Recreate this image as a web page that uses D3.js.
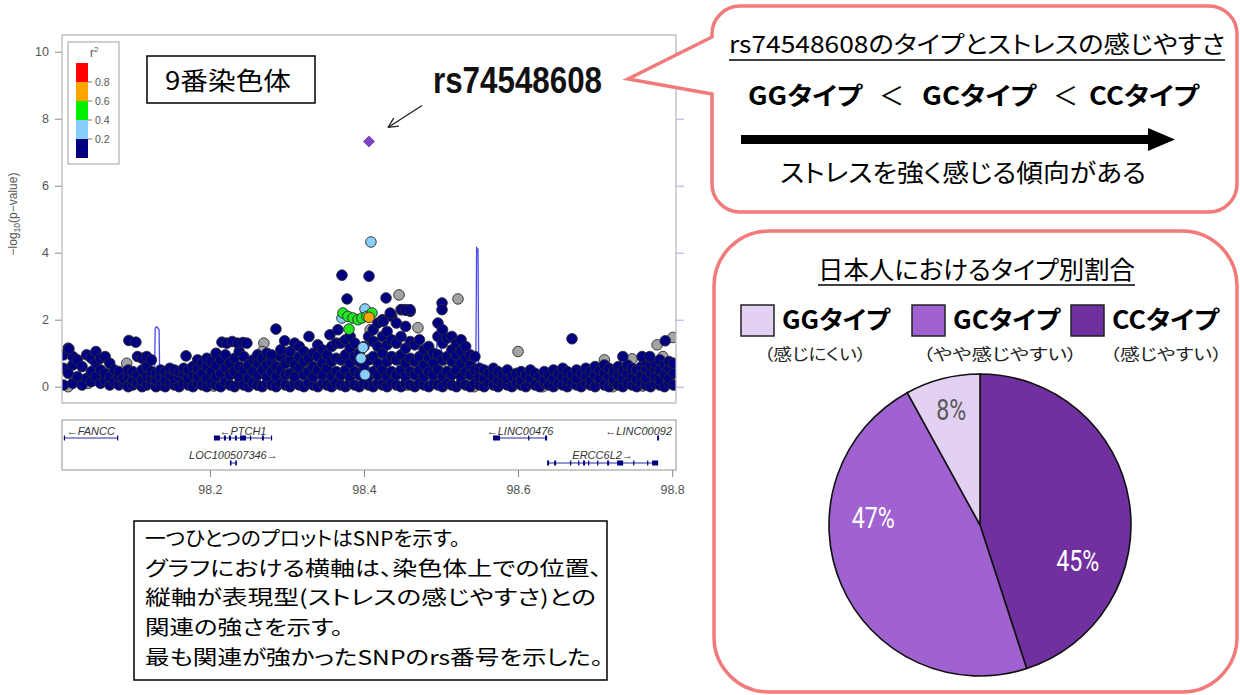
<!DOCTYPE html>
<html>
<head>
<meta charset="utf-8">
<script src="https://cdn.jsdelivr.net/npm/d3@7"></script>
<style>
body { margin: 0; background: #fff; }
svg { display: block; }
.jp { font-family: "Noto Sans CJK JP", "Noto Sans", sans-serif; font-feature-settings: "palt"; }
.ax { font-family: "Liberation Sans", Arial, sans-serif; }
</style>
</head>
<body>
<svg id="chart" width="1240" height="695"></svg>
<script>
// ---- data ----
var yTicks = [0, 2, 4, 6, 8, 10];
var xTicks = [98.2, 98.4, 98.6, 98.8];
var recombTicks = [0, 20, 40, 60, 80, 100];

// r2 legend bins
var ldBins = [0, 0.2, 0.4, 0.6, 0.8, 1];
var ldColors = ["#000080", "#87cefa", "#00ee00", "#ffa500", "#ff0000"];
var ldLabels = [0.2, 0.4, 0.6, 0.8];

// dense band of SNPs with r2 < 0.2, one column per position: [Mb, [-log10 p]]
var bandCols = [
  [98.010, [0.05, 0.55, 0.95]], [98.016, [0.4, 1.15]], [98.022, [0.1, 0.65, 0.9]],
  [98.028, [0.3, 0.8]], [98.034, [0.05, 0.6]], [98.040, [0.25, 0.95]],
  [98.046, [0.15, 0.45, 0.85]], [98.052, [0.3, 0.7, 1.05]], [98.058, [0.1, 0.5, 0.85]],
  [98.064, [0.2, 0.4, 0.9]], [98.070, [0.05, 0.3, 0.7]], [98.076, [0.15, 0.5]],
  [98.082, [0.05, 0.3, 0.45]], [98.088, [0.1, 0.25]], [98.094, [0.0, 0.3, 0.5]],
  [98.100, [0.05, 0.2, 0.45]], [98.106, [0.1, 0.35, 0.9]], [98.112, [0.0, 0.2, 0.5, 0.85]],
  [98.118, [0.05, 0.3, 0.6, 0.9]], [98.124, [0.1, 0.25, 0.45, 0.8]], [98.130, [0.0, 0.2, 0.4]],
  [98.136, [0.05, 0.3, 0.5]], [98.142, [0.0, 0.2, 0.45]], [98.148, [0.1, 0.35, 0.55]],
  [98.154, [0.05, 0.25, 0.5]], [98.160, [0.0, 0.3, 0.45]], [98.166, [0.1, 0.4, 0.55]],
  [98.172, [0.05, 0.25, 0.5]], [98.178, [0.0, 0.35, 0.6]], [98.184, [0.1, 0.3, 0.55, 0.8]],
  [98.190, [0.05, 0.4, 0.7]], [98.196, [0.0, 0.25, 0.6, 0.85]], [98.202, [0.1, 0.45, 0.75]],
  [98.208, [0.05, 0.3, 0.65, 1.0]], [98.214, [0.0, 0.4, 0.8]], [98.220, [0.15, 0.55, 0.95]],
  [98.226, [0.05, 0.35, 0.7]], [98.232, [0.0, 0.45, 0.85]], [98.238, [0.1, 0.3, 0.6, 1.05]],
  [98.244, [0.05, 0.5, 0.9]], [98.250, [0.0, 0.25, 0.65]], [98.256, [0.1, 0.45, 0.8]],
  [98.262, [0.05, 0.35, 0.7, 0.95]], [98.268, [0.0, 0.5, 0.85]], [98.274, [0.1, 0.3, 0.65, 1.0]],
  [98.280, [0.05, 0.45, 0.75, 0.95]], [98.286, [0.0, 0.3, 0.6]], [98.292, [0.1, 0.5, 0.9, 1.1]],
  [98.298, [0.05, 0.35, 0.7]], [98.304, [0.0, 0.4, 0.8, 1.05]], [98.310, [0.1, 0.3, 0.65, 1.3]],
  [98.316, [0.05, 0.55, 0.9, 1.2]], [98.322, [0.0, 0.35, 0.75, 1.05]], [98.328, [0.1, 0.45, 0.85]],
  [98.334, [0.05, 0.3, 0.6, 1.0]], [98.340, [0.0, 0.5, 0.9, 1.25]], [98.346, [0.1, 0.35, 0.7, 1.1]],
  [98.352, [0.05, 0.55, 0.95]], [98.358, [0.0, 0.3, 0.75, 1.2]], [98.364, [0.1, 0.45, 0.85, 1.3]],
  [98.370, [0.05, 0.35, 0.8, 1.3]], [98.376, [0.0, 0.5, 0.95, 1.4]], [98.382, [0.1, 0.3, 0.7, 1.15, 1.5]],
  [98.388, [0.05, 0.45, 0.9, 1.3]], [98.394, [0.0, 0.35, 0.75, 1.0]], [98.400, [0.1, 0.55, 1.2]],
  [98.406, [0.05, 0.3, 0.8, 1.5]], [98.412, [0.0, 0.45, 0.9, 1.35, 1.7]], [98.418, [0.1, 0.35, 0.7, 1.2, 1.9]],
  [98.424, [0.05, 0.5, 1.0, 1.5, 2.0]], [98.430, [0.0, 0.3, 0.75, 1.25, 1.65]], [98.436, [0.1, 0.45, 0.9, 1.4, 2.1]],
  [98.442, [0.05, 0.35, 0.8, 1.3, 1.9]], [98.448, [0.0, 0.5, 0.95, 1.5, 2.3]], [98.454, [0.1, 0.3, 0.7, 1.15, 1.8, 2.3]],
  [98.460, [0.05, 0.45, 0.85, 1.35, 2.25]], [98.466, [0.0, 0.35, 0.75, 1.25]], [98.472, [0.1, 0.5, 0.9, 1.4]],
  [98.478, [0.05, 0.3, 0.65, 1.1]], [98.484, [0.0, 0.45, 0.85, 1.2]], [98.490, [0.1, 0.35, 0.7, 1.0]],
  [98.496, [0.05, 0.5, 0.95, 1.5, 1.9]], [98.502, [0.0, 0.3, 0.8, 1.3, 1.7]], [98.508, [0.1, 0.45, 0.9, 1.45]],
  [98.514, [0.05, 0.35, 0.75, 1.1, 1.5]], [98.520, [0.0, 0.5, 0.95, 1.3]], [98.526, [0.1, 0.3, 0.7, 1.05, 1.4]],
  [98.532, [0.05, 0.45, 0.85, 1.2]], [98.538, [0.0, 0.35, 0.65, 0.95]], [98.544, [0.1, 0.5, 0.9]],
  [98.550, [0.05, 0.3, 0.55]], [98.556, [0.0, 0.25, 0.5]], [98.562, [0.1, 0.4]],
  [98.568, [0.05, 0.3, 0.55]], [98.574, [0.0, 0.2, 0.45]], [98.580, [0.1, 0.35]],
  [98.586, [0.05, 0.25, 0.5]], [98.592, [0.0, 0.3]], [98.598, [0.1, 0.4]],
  [98.604, [0.05, 0.2, 0.45]], [98.610, [0.0, 0.35]], [98.616, [0.1, 0.25, 0.5]],
  [98.622, [0.05, 0.4]], [98.628, [0.0, 0.3]], [98.634, [0.1, 0.2, 0.45]],
  [98.640, [0.05, 0.35]], [98.646, [0.0, 0.25, 0.5]], [98.652, [0.1, 0.4]],
  [98.658, [0.05, 0.3, 0.55]], [98.664, [0.0, 0.2, 0.45]], [98.670, [0.1, 0.35]],
  [98.676, [0.05, 0.25, 0.5]], [98.682, [0.0, 0.4]], [98.688, [0.1, 0.3, 0.55]],
  [98.694, [0.05, 0.2, 0.45]], [98.700, [0.0, 0.35, 0.6]], [98.706, [0.1, 0.25, 0.5]],
  [98.712, [0.05, 0.4, 0.65]], [98.718, [0.0, 0.3, 0.55]], [98.724, [0.1, 0.2, 0.45]],
  [98.730, [0.05, 0.35, 0.6]], [98.736, [0.0, 0.25, 0.5]], [98.742, [0.1, 0.4, 0.65]],
  [98.748, [0.05, 0.3, 0.55]], [98.754, [0.0, 0.2, 0.5]], [98.760, [0.1, 0.35, 0.6]],
  [98.766, [0.05, 0.25, 0.55, 0.75]], [98.772, [0.0, 0.4, 0.65]], [98.778, [0.1, 0.3, 0.55, 0.7]],
  [98.784, [0.05, 0.2, 0.5, 0.8]], [98.790, [0.0, 0.35, 0.65]], [98.796, [0.1, 0.25, 0.55, 0.75]],
  [98.802, [0.05, 0.4, 0.7]]
];

// isolated r2 < 0.2 SNPs standing above the band
var navyPts = [
  [98.017, 1.13], [98.0948, 1.38], [98.1039, 1.33], [98.169, 0.92],
  [98.2156, 1.33], [98.222, 1.3], [98.229, 1.35], [98.236, 1.3], [98.243, 1.32], [98.248, 1.3],
  [98.2857, 1.72], [98.297, 1.37], [98.3286, 1.5], [98.3558, 1.55], [98.3662, 1.7],
  [98.3714, 3.33], [98.4065, 3.3], [98.378, 2.62], [98.4286, 2.65],
  [98.4494, 2.3], [98.4545, 2.28], [98.4597, 2.3], [98.425, 1.95], [98.434, 2.2],
  [98.5013, 2.5], [98.5013, 2.3], [98.670, 1.43], [98.736, 0.9], [98.761, 0.9],
  [98.771, 0.9], [98.791, 1.37]
];
// SNPs without LD information
var grayPts = [
  [98.016, 0.0], [98.042, 0.1], [98.092, 0.7], [98.160, 0.05], [98.205, 0.02],
  [98.262, 0.05], [98.270, 1.3], [98.268, 1.05], [98.300, 0.1], [98.318, 0.85],
  [98.352, 0.3], [98.377, 0.35], [98.384, 1.25], [98.408, 1.7], [98.4455, 2.74],
  [98.470, 1.76], [98.4545, 0.05], [98.522, 2.62], [98.500, 0.6], [98.543, 0.0],
  [98.600, 1.05], [98.632, 0.0], [98.712, 0.8], [98.723, 0.0], [98.748, 0.83],
  [98.762, 0.02], [98.788, 0.9], [98.7805, 1.25], [98.801, 1.47]
];
var lbluePts = [[98.409, 4.32], [98.4013, 2.32], [98.3714, 2.05], [98.3987, 1.17], [98.3961, 0.85], [98.4013, 0.36]];
var greenPts = [[98.3727, 2.2], [98.3792, 2.1], [98.3857, 2.05], [98.3922, 2.0], [98.3974, 2.05],
  [98.4039, 2.1], [98.4104, 2.2], [98.3805, 1.72]];
var orangePts = [[98.4065, 2.07]];
var leadSnp = [98.4065, 7.32];
var leadName = "rs74548608";

// recombination rate (cM/Mb)
var recombPos = [98.008, 98.128, 98.129, 98.131, 98.134, 98.135, 98.308, 98.309, 98.311, 98.312,
  98.494, 98.495, 98.500, 98.501, 98.545, 98.5462, 98.548, 98.549, 98.805];
var recombRate = [0.4, 0.4, 17.5, 17.9, 17.0, 0.4, 0.5, 14, 14, 0.5, 0.6, 20, 20, 0.6, 0.8, 41.5, 41, 0.8, 0.6];

// genes
var geneNames = ["FANCC", "PTCH1", "LOC100507346", "LINC00476", "LINC00092", "ERCC6L2"];
var geneStart = [98.0104, 98.2052, 98.2260, 98.5675, 98.7805, 98.6377];
var geneEnd = [98.0805, 98.2805, 98.2350, 98.6377, 98.7830, 98.7818];
var geneStrand = ["-", "-", "+", "-", "-", "+"];
var geneRow = [0, 0, 1, 0, 0, 1];
var geneExons = [
  [[98.0104, 98.0114], [98.0795, 98.0805]],
  [[98.2052, 98.2130], [98.2182, 98.2208], [98.2247, 98.2273], [98.2325, 98.2350], [98.2390, 98.2468],
   [98.2520, 98.2533], [98.2675, 98.2700], [98.2792, 98.2805]],
  [[98.2260, 98.2280], [98.2330, 98.2350]],
  [[98.5675, 98.5766], [98.6130, 98.6143], [98.6350, 98.6377]],
  [[98.7805, 98.7830]],
  [[98.6377, 98.6403], [98.6468, 98.6494], [98.6675, 98.6688], [98.6779, 98.6792], [98.6844, 98.6870],
   [98.6909, 98.6922], [98.7026, 98.7039], [98.7156, 98.7182], [98.7286, 98.7364], [98.7494, 98.7506],
   [98.7675, 98.7688], [98.7740, 98.7818]]
];

// genotype frequencies in Japanese
var pieTypes = ["CCタイプ", "GCタイプ", "GGタイプ"];
var pieValues = [45, 47, 8];
var pieColors = ["#7030a0", "#a062d0", "#e2d1f2"];
var legendTypes = ["GGタイプ", "GCタイプ", "CCタイプ"];
var legendNotes = ["（感じにくい）", "（やや感じやすい）", "（感じやすい）"];
var legendColors = ["#e2d1f2", "#a062d0", "#7030a0"];

var noteLines = [
  "一つひとつのプロットはSNPを示す。",
  "グラフにおける横軸は、染色体上での位置、",
  "縦軸が表現型(ストレスの感じやすさ)との",
  "関連の強さを示す。",
  "最も関連が強かったSNPのrs番号を示した。"
];

// ---- drawing ----
var svg = d3.select("#chart");
var plot = { left: 62, right: 676, top: 35, bottom: 403 };

var x = d3.scaleLinear().domain([98.008, 98.805]).range([plot.left, plot.right]);
var y = d3.scaleLinear().domain([0, 10]).range([386.7, 51.7]);
var yR = d3.scaleLinear().domain([0, 100]).range([386.7, 51.7]);

svg.append("defs").append("clipPath").attr("id", "plotclip")
  .append("rect").attr("x", plot.left).attr("y", plot.top)
  .attr("width", plot.right - plot.left).attr("height", plot.bottom - plot.top);

// left axis
var yAxis = svg.append("g").attr("class", "ax")
  .attr("transform", "translate(" + plot.left + ",0)")
  .call(d3.axisLeft(y).tickValues(yTicks).tickSize(7).tickPadding(6));
yAxis.select(".domain").remove();
yAxis.selectAll("line").attr("stroke", "#888");
yAxis.selectAll("text").attr("fill", "#555").style("font-size", "12.5px");

// right axis (recombination), ticks only
var rAxis = svg.append("g")
  .attr("transform", "translate(" + plot.right + ",0)")
  .call(d3.axisRight(yR).tickValues(recombTicks).tickSize(8).tickFormat(""));
rAxis.select(".domain").remove();
rAxis.selectAll("line").attr("stroke", "#a8a8f0");

// y label
var ylab = svg.append("text").attr("class", "ax")
  .attr("transform", "translate(17,214) rotate(-90)")
  .attr("text-anchor", "middle").attr("fill", "#555").style("font-size", "12px");
ylab.append("tspan").text("\u2212log");
ylab.append("tspan").text("10").style("font-size", "8.5px").attr("dy", 3);
ylab.append("tspan").text("(p\u2212value)").attr("dy", -3);

// recombination line
var plotG = svg.append("g").attr("clip-path", "url(#plotclip)");
plotG.append("path")
  .datum(d3.zip(recombPos, recombRate))
  .attr("fill", "none").attr("stroke", "#4a4af0").attr("stroke-width", 1.3)
  .attr("d", d3.line().x(function(d) { return x(d[0]); }).y(function(d) { return yR(d[1]); }));

function drawPts(pts, fill) {
  plotG.append("g").selectAll("circle")
    .data(pts).enter().append("circle")
    .attr("cx", function(d) { return x(d[0]); })
    .attr("cy", function(d) { return y(d[1]); })
    .attr("r", 5.3)
    .attr("fill", fill)
    .attr("stroke", "#2b2b33").attr("stroke-width", 0.9);
}

var bandPts = [];
bandCols.forEach(function(c) {
  c[1].forEach(function(v) { bandPts.push([c[0], v]); });
});

drawPts(grayPts, "#a3a3a3");
drawPts(bandPts, ldColors[0]);
drawPts(navyPts, ldColors[0]);
drawPts(lbluePts, ldColors[1]);
drawPts(greenPts, "#22e622");
drawPts(orangePts, ldColors[3]);

// lead SNP diamond
plotG.append("path")
  .attr("d", d3.symbol(d3.symbolSquare, 62)())
  .attr("transform", "translate(" + x(leadSnp[0]) + "," + y(leadSnp[1]) + ") rotate(45)")
  .attr("fill", "#8040c8").attr("stroke", "#5a2a90").attr("stroke-width", 0.6);

// frame
svg.append("rect").attr("x", plot.left).attr("y", plot.top)
  .attr("width", plot.right - plot.left).attr("height", plot.bottom - plot.top)
  .attr("fill", "none").attr("stroke", "#b5b5b5").attr("stroke-width", 1.2);

// r2 legend
var ly = d3.scaleLinear().domain([0, 1]).range([158, 63]);
var lg = svg.append("g").attr("class", "ax");
lg.append("rect").attr("x", 68).attr("y", 42).attr("width", 51).attr("height", 122)
  .attr("fill", "#fff").attr("stroke", "#a0a0a0");
lg.selectAll(".band").data(ldColors).enter().append("rect")
  .attr("x", 76).attr("width", 12)
  .attr("y", function(d, i) { return ly(ldBins[i + 1]); })
  .attr("height", function(d, i) { return ly(ldBins[i]) - ly(ldBins[i + 1]); })
  .attr("fill", function(d) { return d; });
lg.selectAll(".tk").data(ldLabels).enter().append("line")
  .attr("x1", 88).attr("x2", 92)
  .attr("y1", function(d) { return ly(d); }).attr("y2", function(d) { return ly(d); })
  .attr("stroke", "#777");
lg.selectAll(".tl").data(ldLabels).enter().append("text")
  .attr("x", 95).attr("y", function(d) { return ly(d) + 3.5; })
  .attr("fill", "#555").style("font-size", "10.5px")
  .text(function(d) { return d.toFixed(1); });
var r2t = lg.append("text").attr("x", 90).attr("y", 57).attr("fill", "#555").style("font-size", "12px");
r2t.append("tspan").text("r");
r2t.append("tspan").text("2").attr("dy", -5).style("font-size", "8px");

// gene panel
var gp = { top: 420, bottom: 470 };
svg.append("rect").attr("x", plot.left).attr("y", gp.top)
  .attr("width", plot.right - plot.left).attr("height", gp.bottom - gp.top)
  .attr("fill", "none").attr("stroke", "#a5a5a5").attr("stroke-width", 1.2);
var rowLine = [438, 463], rowText = [435, 458.5];
var genesG = svg.append("g").attr("class", "ax");
geneNames.forEach(function(name, i) {
  var r = geneRow[i];
  genesG.append("line")
    .attr("x1", x(geneStart[i])).attr("x2", x(geneEnd[i]))
    .attr("y1", rowLine[r]).attr("y2", rowLine[r])
    .attr("stroke", "#2a2a9a").attr("stroke-width", 1);
  geneExons[i].forEach(function(e) {
    genesG.append("rect")
      .attr("x", x(e[0])).attr("width", Math.max(1.2, x(e[1]) - x(e[0])))
      .attr("y", rowLine[r] - 2.5).attr("height", 5)
      .attr("fill", "#000080");
  });
  var label = geneStrand[i] === "-" ? "\u2190" + name : name + "\u2192";
  var t = genesG.append("text")
    .attr("y", rowText[r]).attr("text-anchor", "middle")
    .attr("fill", "#333").style("font-size", "11px").style("font-style", "italic")
    .text(label);
  var w = t.node().getComputedTextLength();
  var cx = (x(geneStart[i]) + x(geneEnd[i])) / 2;
  cx = Math.max(plot.left + 3 + w / 2, Math.min(plot.right - 4 - w / 2, cx));
  t.attr("x", cx);
});

// x axis below genes
var xAxis = svg.append("g").attr("class", "ax")
  .attr("transform", "translate(0," + gp.bottom + ")")
  .call(d3.axisBottom(x).tickValues(xTicks).tickSize(7).tickPadding(8).tickFormat(d3.format(".1f")));
xAxis.select(".domain").remove();
xAxis.selectAll("line").attr("stroke", "#888");
xAxis.selectAll("text").attr("fill", "#555").style("font-size", "12.5px");

// ---- annotations ----
function fitText(str, x1, x2, yb, size, weight, fill, cls) {
  return svg.append("text").attr("class", cls || "jp")
    .attr("x", x1).attr("y", yb)
    .attr("textLength", x2 - x1).attr("lengthAdjust", "spacingAndGlyphs")
    .style("font-size", size + "px").style("font-weight", weight || 400)
    .attr("fill", fill || "#000").text(str);
}

// chromosome label
svg.append("rect").attr("x", 147).attr("y", 56).attr("width", 168).attr("height", 47)
  .attr("fill", "#fff").attr("stroke", "#000").attr("stroke-width", 1.5);
fitText("9番染色体", 165, 291, 89.5, 25);

// lead SNP label and arrow
var lx = x(leadSnp[0]), lyy = y(leadSnp[1]);
fitText(leadName, 433, 602, 93, 37, 700, "#111", "ax");
var ax0 = lx + 53, ay0 = lyy - 36, ax1 = lx + 19, ay1 = lyy - 14;
svg.append("line").attr("x1", ax0).attr("y1", ay0).attr("x2", ax1).attr("y2", ay1)
  .attr("stroke", "#222").attr("stroke-width", 1.3);
var ang = Math.atan2(ay0 - ay1, ax0 - ax1);
[0.45, -0.45].forEach(function(da) {
  svg.append("line").attr("x1", ax1).attr("y1", ay1)
    .attr("x2", ax1 + 11 * Math.cos(ang + da)).attr("y2", ay1 + 11 * Math.sin(ang + da))
    .attr("stroke", "#222").attr("stroke-width", 1.3);
});

// callout box 1
var pink = "#f17a7a";
(function() {
  var L = 712, T = 6, R = 1237, B = 212, r = 28, y1 = 37, y2 = 94, tipX = 628, tipY = 79;
  var p = d3.path();
  p.moveTo(L + r, T); p.lineTo(R - r, T); p.arcTo(R, T, R, T + r, r);
  p.lineTo(R, B - r); p.arcTo(R, B, R - r, B, r);
  p.lineTo(L + r, B); p.arcTo(L, B, L, B - r, r);
  p.lineTo(L, y2); p.lineTo(tipX, tipY); p.lineTo(L, y1);
  p.lineTo(L, T + r); p.arcTo(L, T, L + r, T, r); p.closePath();
  svg.append("path").attr("d", p.toString()).attr("fill", "#fff")
    .attr("stroke", pink).attr("stroke-width", 3.5).attr("stroke-linejoin", "miter");
})();
fitText("rs74548608のタイプとストレスの感じやすさ", 729, 1225, 53, 24);
svg.append("line").attr("x1", 729).attr("x2", 1225).attr("y1", 60).attr("y2", 60)
  .attr("stroke", "#000").attr("stroke-width", 1.4);
fitText("GGタイプ", 748, 862, 105, 25, 700);
fitText("＜", 879, 904, 105, 25, 400);
fitText("GCタイプ", 922, 1036, 105, 25, 700);
fitText("＜", 1053, 1078, 105, 25, 400);
fitText("CCタイプ", 1089, 1199, 105, 25, 700);
svg.append("line").attr("x1", 741).attr("x2", 1150).attr("y1", 139.5).attr("y2", 139.5)
  .attr("stroke", "#000").attr("stroke-width", 9);
svg.append("path").attr("d", d3.line()([[1148, 128], [1175, 139.5], [1148, 151]]) + "Z").attr("fill", "#000");
fitText("ストレスを強く感じる傾向がある", 780, 1146, 182, 25);

// callout box 2 with pie
svg.append("rect").attr("x", 714).attr("y", 231).attr("width", 523).attr("height", 461)
  .attr("rx", 55).attr("ry", 55).attr("fill", "#fff").attr("stroke", pink).attr("stroke-width", 3.5);
fitText("日本人におけるタイプ別割合", 818, 1135, 279, 25);
svg.append("line").attr("x1", 818).attr("x2", 1135).attr("y1", 285).attr("y2", 285)
  .attr("stroke", "#000").attr("stroke-width", 1.4);

var legX = [741, 912, 1071], legTextX = [[782, 890], [953, 1060], [1112, 1219]];
var noteX = [[764, 866], [923, 1077], [1110, 1222]];
legendTypes.forEach(function(t, i) {
  svg.append("rect").attr("x", legX[i]).attr("y", 305).attr("width", 33).attr("height", 31)
    .attr("fill", legendColors[i]).attr("stroke", "#222").attr("stroke-width", 1.5);
  fitText(t, legTextX[i][0], legTextX[i][1], 329, 25, 700);
  fitText(legendNotes[i], noteX[i][0], noteX[i][1], 360, 16, 400, "#222");
});

var pieG = svg.append("g").attr("transform", "translate(980,525)");
var arcs = d3.pie().sort(null)(pieValues);
var arcGen = d3.arc().innerRadius(0).outerRadius(151);
pieG.selectAll("path").data(arcs).enter().append("path")
  .attr("d", arcGen)
  .attr("fill", function(d, i) { return pieColors[i]; })
  .attr("stroke", "#111").attr("stroke-width", 1.6);
// label placement: angle (deg, clockwise from top) and radius per slice
var labelPolar = [[110, 104], [274, 107], [346, 119]];
var labelFill = ["#fff", "#fff", "#595959"];
arcs.forEach(function(a, i) {
  var t = labelPolar[i][0] * Math.PI / 180, rr = labelPolar[i][1];
  var txt = pieG.append("text")
    .attr("x", rr * Math.sin(t)).attr("y", -rr * Math.cos(t) + 10)
    .attr("text-anchor", "middle")
    .style("font-family", "Roboto, sans-serif").style("font-size", "29px")
    .attr("fill", labelFill[i])
    .text(pieValues[i] + "%");
  var w = txt.node().getComputedTextLength();
  txt.attr("textLength", w * 0.8).attr("lengthAdjust", "spacingAndGlyphs");
});

// explanation box
svg.append("rect").attr("x", 134).attr("y", 521).attr("width", 473).attr("height", 159)
  .attr("fill", "#fff").attr("stroke", "#000").attr("stroke-width", 1.5);
var noteEnds = [460, 602, 596, 343, 603];
noteLines.forEach(function(s, i) {
  fitText(s, 145, noteEnds[i], 546 + i * 29.7, 20.5);
});
</script>
</body>
</html>
